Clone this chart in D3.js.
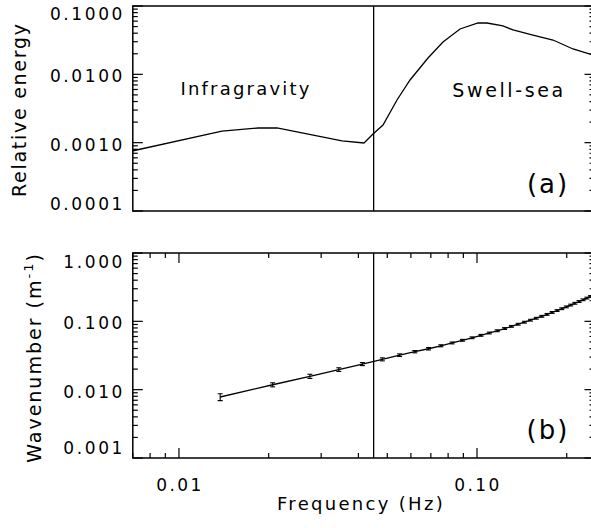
<!DOCTYPE html>
<html><head><meta charset="utf-8">
<script src="https://cdn.jsdelivr.net/npm/d3@7"></script>
<style>
html,body{margin:0;padding:0;background:#fff;}
svg text{font-family:"DejaVu Sans",sans-serif;fill:#000;}
</style></head>
<body><svg id="c" width="591" height="528"></svg>
<script>
// ---- data ----
const freqA = [0.00696,0.01394,0.01841,0.02132,0.03524,0.04177,0.04478,0.04837,0.0539,0.05961,0.06848,0.0769,0.0877,0.1008,0.108,0.1222,0.1321,0.1541,0.1799,0.21,0.2394,0.25];
const energyA = [0.000755,0.00148,0.00164,0.00164,0.00106,0.000989,0.00134,0.00181,0.00421,0.00826,0.01734,0.0297,0.0461,0.0564,0.0564,0.0510,0.0446,0.0376,0.0318,0.0235,0.0198,0.0185];

const freqB = [0.01375,0.020625,0.0275,0.034375,0.04125,0.048125,0.055,0.061875,0.06875,0.075625,0.0825,0.089375,0.09625,0.103125,0.11,0.116875,0.12375,0.130625,0.1375,0.144375,0.15125,0.158125,0.165,0.171875,0.17875,0.185625,0.1925,0.199375,0.20625,0.213125,0.22,0.226875,0.23375,0.240625];
const wavenumB = [0.00781,0.0118,0.0157,0.0197,0.0237,0.0278,0.0320,0.0360,0.0397,0.0439,0.0483,0.0528,0.0575,0.0624,0.0675,0.0728,0.0785,0.0845,0.0907,0.0972,0.104,0.111,0.1185,0.1265,0.135,0.1437,0.153,0.1628,0.173,0.1838,0.195,0.2067,0.219,0.2316];
const errB = [0.0009,0.0008,0.0011,0.0012,0.0012,0.0014,0.0014,0.0014,0.0016,0.0015,0.0015,0.0016,0.0017,0.0019,0.0020,0.0022,0.0024,0.0025,0.0027,0.0029,0.0031,0.0033,0.0036,0.0038,0.0041,0.0043,0.0046,0.0049,0.0052,0.0055,0.0059,0.0062,0.0066,0.0069];

const splitFreq = 0.045;
const xDomain = [0.007, 0.25];
const xTickVals = [0.01, 0.1];
const yDomainA = [0.0001, 0.1];
const yTickValsA = [0.0001, 0.001, 0.01, 0.1];
const yDomainB = [0.001, 1];
const yTickValsB = [0.001, 0.01, 0.1, 1];
const regionLabels = ["Infragravity", "Swell-sea"];
const panelLabels = ["(a)", "(b)"];
const yTitleA = "Relative energy";
const xTitle = "Frequency (Hz)";

// ---- layout ----
const svg = d3.select("#c");
const X0 = 132.8, X1 = 594.5;
const A = {top: 6, bottom: 211};
const B = {top: 253, bottom: 458};

const x = d3.scaleLog().domain(xDomain).range([X0, 595.6]);
const yA = d3.scaleLog().domain(yDomainA).range([A.bottom, A.top]);
const yB = d3.scaleLog().domain(yDomainB).range([B.bottom, B.top]);

const defs = svg.append("defs");
defs.append("clipPath").attr("id","clipA").append("rect").attr("x",X0).attr("y",A.top).attr("width",X1-X0).attr("height",A.bottom-A.top);
defs.append("clipPath").attr("id","clipB").append("rect").attr("x",X0).attr("y",B.top).attr("width",X1-X0).attr("height",B.bottom-B.top);

function frame(p){
  svg.append("rect").attr("x",X0).attr("y",p.top).attr("width",X1-X0).attr("height",p.bottom-p.top)
    .attr("fill","none").attr("stroke","#000").attr("stroke-width",1.5);
}

function yTicks(y, p, vals, fmt, labelOff){
  const g = svg.append("g");
  const all = y.ticks();
  all.forEach(v=>{
    const major = vals.some(t=>Math.abs(Math.log10(t)-Math.log10(v))<1e-6);
    const len = major?10:5;
    const yy = y(v);
    g.append("line").attr("x1",X0).attr("x2",X0+len).attr("y1",yy).attr("y2",yy).attr("stroke","#000").attr("stroke-width",1.2);
    g.append("line").attr("x1",X1).attr("x2",X1-len).attr("y1",yy).attr("y2",yy).attr("stroke","#000").attr("stroke-width",1.2);
  });
  vals.forEach(v=>{
    let cy = y(v)+2;
    cy = Math.max(p.top+labelOff[0], Math.min(p.bottom-labelOff[1], cy));
    g.append("text").attr("x",125).attr("y",cy).attr("dy","0.36em")
      .attr("text-anchor","end").style("font-size","17px").style("letter-spacing","2.6px")
      .text(fmt(v));
  });
}

function xTicks(p, top, bottom){
  const g = svg.append("g");
  x.ticks().forEach(v=>{
    const major = xTickVals.some(t=>Math.abs(Math.log10(t)-Math.log10(v))<1e-6);
    const len = major?10:5;
    const xx = x(v);
    if(bottom) g.append("line").attr("x1",xx).attr("x2",xx).attr("y1",p.bottom).attr("y2",p.bottom-len).attr("stroke","#000").attr("stroke-width",1.2);
    if(top) g.append("line").attr("x1",xx).attr("x2",xx).attr("y1",p.top).attr("y2",p.top+len).attr("stroke","#000").attr("stroke-width",1.2);
  });
}

// ---- panel (a) ----
frame(A);
yTicks(yA, A, yTickValsA, d3.format(".4f"), [7.5, 7.5]);
svg.append("line").attr("x1",x(splitFreq)).attr("x2",x(splitFreq)).attr("y1",A.top).attr("y2",A.bottom).attr("stroke","#000").attr("stroke-width",1.3);
const lineA = d3.line().x((d,i)=>x(freqA[i])).y((d,i)=>yA(energyA[i]));
svg.append("path").attr("clip-path","url(#clipA)").attr("d",lineA(freqA)).attr("fill","none").attr("stroke","#000").attr("stroke-width",1.3);

svg.append("text").attr("x",246).attr("y",95).attr("text-anchor","middle").style("font-size","18px")
  .style("letter-spacing","2.2px").text(regionLabels[0]);
svg.append("text").attr("x",509).attr("y",97).attr("text-anchor","middle").style("font-size","19px")
  .style("letter-spacing","2.6px").text(regionLabels[1]);
svg.append("text").attr("x",548).attr("y",193).attr("text-anchor","middle").style("font-size","26px").style("letter-spacing","2px").text(panelLabels[0]);

svg.append("text").attr("transform","translate(26,"+((A.top+A.bottom)/2+2)+") rotate(-90)")
  .attr("text-anchor","middle").style("font-size","19px").attr("textLength",173).attr("lengthAdjust","spacing").text(yTitleA);

// ---- panel (b) ----
frame(B);
yTicks(yB, B, yTickValsB, d3.format(".3f"), [8.5, 10]);
xTicks(B, true, true);
svg.append("line").attr("x1",x(splitFreq)).attr("x2",x(splitFreq)).attr("y1",B.top).attr("y2",B.bottom).attr("stroke","#000").attr("stroke-width",1.3);
const gB = svg.append("g").attr("clip-path","url(#clipB)");
const lineB = d3.line().x((d,i)=>x(freqB[i])).y((d,i)=>yB(wavenumB[i]));
gB.append("path").attr("d",lineB(freqB)).attr("fill","none").attr("stroke","#000").attr("stroke-width",1.3);
freqB.forEach((f,i)=>{
  const xx = x(f), y1 = yB(wavenumB[i]-errB[i]), y2 = yB(wavenumB[i]+errB[i]);
  gB.append("line").attr("x1",xx).attr("x2",xx).attr("y1",y1).attr("y2",y2).attr("stroke","#000").attr("stroke-width",1.1);
  gB.append("line").attr("x1",xx-2.5).attr("x2",xx+2.5).attr("y1",y1).attr("y2",y1).attr("stroke","#000").attr("stroke-width",1.1);
  gB.append("line").attr("x1",xx-2.5).attr("x2",xx+2.5).attr("y1",y2).attr("y2",y2).attr("stroke","#000").attr("stroke-width",1.1);
});
svg.append("text").attr("x",548).attr("y",439).attr("text-anchor","middle").style("font-size","26px").style("letter-spacing","2px").text(panelLabels[1]);

xTickVals.forEach(v=>{
  svg.append("text").attr("x",x(v)+1).attr("y",491).attr("text-anchor","middle").style("font-size","17px").style("letter-spacing","2.4px").text(d3.format(".2f")(v));
});
svg.append("text").attr("x",361).attr("y",510).attr("text-anchor","middle").style("font-size","18px").style("letter-spacing","2.3px").text(xTitle);

const yt = svg.append("text").attr("transform","translate(41,"+((B.top+B.bottom)/2+2)+") rotate(-90)")
  .attr("text-anchor","middle").style("font-size","19px").style("letter-spacing","2px");
yt.append("tspan").text("Wavenumber (m");
yt.append("tspan").attr("dy",-8).style("font-size","13px").text("-1");
yt.append("tspan").attr("dy",8).text(")");
</script></body></html>
